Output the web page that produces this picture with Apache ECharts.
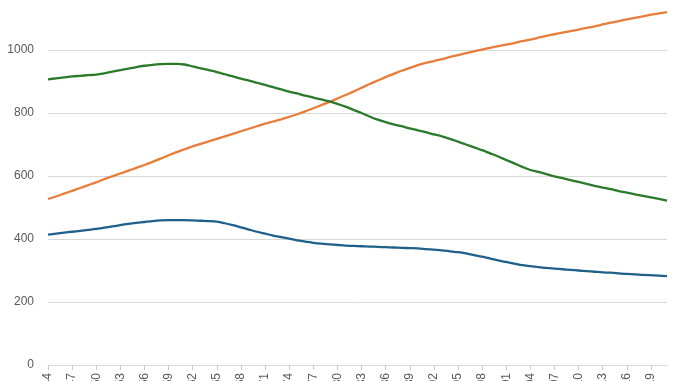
<!DOCTYPE html>
<html>
<head>
<meta charset="utf-8">
<script src="https://cdn.jsdelivr.net/npm/echarts@6/dist/echarts.min.js"></script>
<style>
html,body{margin:0;padding:0;background:#fff;}
#c{width:678px;height:381px;}
</style>
</head>
<body>
<div id="c"></div>
<script>
// Categories: years 1944..2021
const years = [];
for (let y = 1944; y <= 2021; y++) years.push(String(y));

const yTicks = [0, 200, 400, 600, 800, 1000, 1200];

const seriesBlue = [414,417,420,423,426,429,432,436,440,444,448,451,454,457,459,460,460,460,459,458,457,455,450,444,437,430,423,417,411,406,401,396,392,388,385,383,381,379,378,377,376,375,374,373,372,371,370,368,366,364,361,358,354,349,344,338,332,327,322,317,314,311,308,306,304,302,300,298,296,294,293,291,289,288,286,285,284,282];

const seriesOrange = [527,535,544,553,562,571,580,590,599,608,617,626,635,645,655,666,676,685,694,702,710,718,726,734,742,750,758,766,773,780,788,796,805,815,825,835,846,857,868,880,892,903,914,924,934,943,952,959,965,971,978,984,990,996,1001,1007,1012,1017,1022,1028,1033,1039,1045,1050,1055,1060,1065,1070,1075,1081,1087,1092,1097,1102,1107,1112,1116,1120];

const seriesGreen = [907,910,913,916,918,920,922,926,931,936,941,946,950,953,955,956,956,954,948,942,936,930,923,916,909,903,896,889,882,875,868,862,855,849,843,837,829,820,810,800,789,779,771,764,758,751,745,739,732,726,718,709,700,691,682,672,662,651,640,629,619,613,606,599,593,587,581,575,569,563,558,552,547,542,537,532,527,522];

const chart = echarts.init(document.getElementById('c'), null, {renderer: 'canvas'});
const font = '"Liberation Sans", Arial, sans-serif';
function mk(name, data, color) {
  return {
    name: name, type: 'line', data: data, symbol: 'none', smooth: 0.3,
    lineStyle: {color: color, width: 2.3}, itemStyle: {color: color}
  };
}
chart.setOption({
  animation: false,
  backgroundColor: '#ffffff',
  grid: {left: 48, right: 11, top: -13, bottom: 16, containLabel: false, outerBoundsMode: 'none'},
  xAxis: {
    type: 'category', data: years, boundaryGap: false,
    axisLine: {show: true, lineStyle: {color: '#d9d9d9', width: 1}},
    axisTick: {show: true, interval: 2, length: 5, lineStyle: {color: '#c8c8c8'}},
    axisLabel: {interval: 2, rotate: 90, margin: 8, color: '#595959', fontSize: 12, fontFamily: font},
    splitLine: {show: false}
  },
  yAxis: {
    type: 'value', min: yTicks[0], max: yTicks[yTicks.length - 1], interval: 200,
    axisLine: {show: false}, axisTick: {show: false},
    axisLabel: {margin: 14, color: '#595959', fontSize: 12, fontFamily: font, formatter: function (v) { return String(v); }},
    splitLine: {show: true, lineStyle: {color: '#d9d9d9', width: 1}}
  },
  series: [
    mk('Series A', seriesBlue, '#1f5f8b'),
    mk('Series B', seriesOrange, '#e97c3a'),
    mk('Series C', seriesGreen, '#2a7a2a')
  ]
});
</script>
</body>
</html>
